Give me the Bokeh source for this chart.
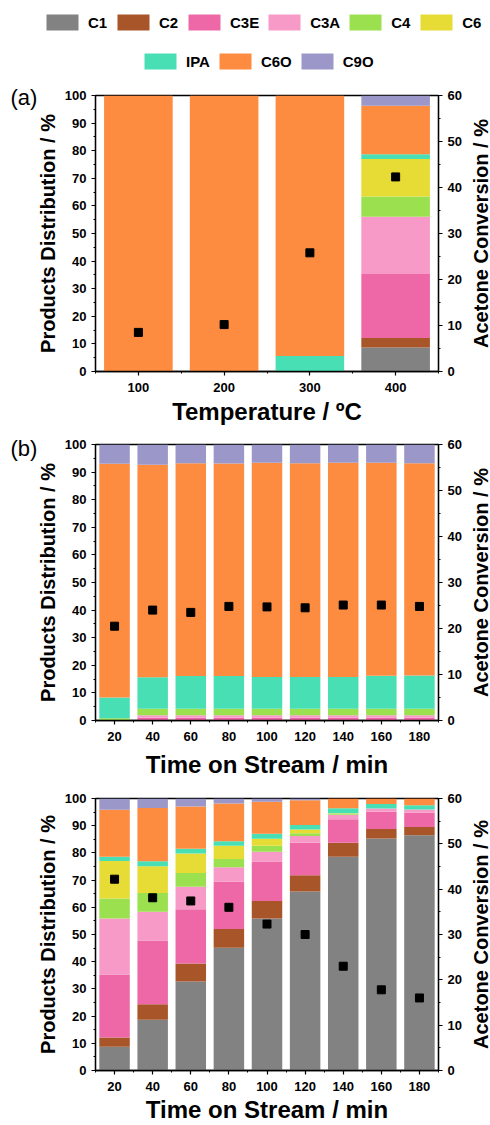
import math
from bokeh.plotting import figure
from bokeh.models import (ColumnDataSource, Range1d, LinearAxis, FixedTicker,
                          Legend, LegendItem, Label)
from bokeh.layouts import column
from bokeh.embed import file_html
from bokeh.resources import INLINE

FONT = "Liberation Sans"

species = ["C1", "C2", "C3E", "C3A", "C4", "C6", "IPA", "C6O", "C9O"]
colors = ["#828282", "#A8552A", "#EE68A8", "#F79AC8", "#9BE04F",
          "#E6DC35", "#48DFB5", "#FD8C40", "#9C97C9"]

# ---------- panel (a): temperature ----------
temps = [100, 200, 300, 400]
a_C1 = [0, 0, 0, 8.7]
a_C2 = [0, 0, 0, 3.4]
a_C3E = [0, 0, 0, 23.2]
a_C3A = [0, 0, 0, 20.8]
a_C4 = [0, 0, 0, 7.3]
a_C6 = [0, 0, 0, 13.6]
a_IPA = [0, 0, 5.6, 1.7]
a_C6O = [100, 100, 94.4, 17.6]
a_C9O = [0, 0, 0, 3.7]
a_conv = [8.5, 10.2, 25.8, 42.3]

# ---------- panel (b): time on stream ----------
time_b = [20, 40, 60, 80, 100, 120, 140, 160, 180]
b_C1 = [0, 0, 0, 0, 0, 0, 0, 0, 0]
b_C2 = [0, 0, 0, 0, 0, 0, 0, 0, 0]
b_C3E = [0, 1.0, 1.0, 1.0, 1.0, 1.0, 1.0, 1.0, 1.0]
b_C3A = [0, 0.9, 0.9, 0.9, 0.9, 0.9, 0.9, 0.9, 0.9]
b_C4 = [0.8, 2.4, 2.4, 2.4, 2.4, 2.4, 2.4, 2.4, 2.4]
b_C6 = [0, 0, 0, 0, 0, 0, 0, 0, 0]
b_IPA = [7.5, 11.4, 11.8, 11.8, 11.5, 11.5, 11.5, 11.9, 12.0]
b_C6O = [84.7, 77.0, 77.1, 77.0, 77.6, 77.4, 77.6, 77.2, 76.9]
b_C9O = [7.0, 7.3, 6.8, 6.9, 6.6, 6.8, 6.6, 6.6, 6.8]
b_conv = [20.5, 24.0, 23.5, 24.8, 24.7, 24.5, 25.1, 25.1, 24.8]

# ---------- panel (c): time on stream ----------
time_c = [20, 40, 60, 80, 100, 120, 140, 160, 180]
c_C1 = [8.7, 18.7, 32.7, 45.1, 55.9, 65.8, 78.6, 85.3, 86.5]
c_C2 = [3.4, 5.7, 6.6, 6.9, 6.4, 6.0, 5.1, 3.5, 3.0]
c_C3E = [23.2, 23.4, 20.0, 17.4, 14.5, 11.9, 8.7, 6.3, 5.3]
c_C3A = [20.6, 10.6, 8.3, 5.3, 3.6, 2.5, 1.6, 1.2, 1.2]
c_C4 = [7.3, 6.9, 5.0, 3.1, 2.2, 1.0, 0.4, 0, 0]
c_C6 = [13.8, 9.8, 7.2, 4.8, 2.6, 1.4, 0.2, 0, 0]
c_IPA = [1.6, 1.8, 1.7, 1.7, 1.8, 1.7, 1.8, 1.7, 1.5]
c_C6O = [17.3, 19.6, 15.6, 13.9, 11.8, 9.1, 3.6, 2.0, 2.5]
c_C9O = [4.1, 3.5, 2.9, 1.8, 1.2, 0.6, 0, 0, 0]
c_conv = [42.2, 38.1, 37.4, 36.0, 32.3, 30.0, 23.0, 17.8, 16.0]

x_ticks_a = [100, 200, 300, 400]
x_minor_a = [50, 150, 250, 350, 450]
x_ticks_t = [20, 40, 60, 80, 100, 120, 140, 160, 180]
x_minor_t = [10, 30, 50, 70, 90, 110, 130, 150, 170, 190]

LEFT, RIGHT, FW, FH = 95, 52, 343, 276


def style_axis(ax, label_size):
    ax.axis_line_width = 1.3
    ax.axis_line_color = "black"
    ax.major_tick_in = 0
    ax.major_tick_out = 4
    ax.minor_tick_in = 0
    ax.minor_tick_out = 2
    ax.major_tick_line_width = 1.2
    ax.minor_tick_line_width = 1.0
    ax.major_label_text_font = FONT
    ax.major_label_text_font_style = "bold"
    ax.major_label_text_font_size = "13px"
    ax.major_label_text_color = "black"
    ax.major_label_text_line_height = 1.0
    ax.axis_label_text_font = FONT
    ax.axis_label_text_font_style = "bold"
    ax.axis_label_text_font_size = label_size
    ax.axis_label_text_color = "black"
    ax.axis_label_text_line_height = 1.0


def make_source(xs, cols):
    data = {"x": xs}
    for s, v in zip(species, cols):
        data[s] = v
    return ColumnDataSource(data)


def make_panel(src, xs, conv, xr, width, ticks, minor, xlabel, tag, tag_dy,
               top, bottom, xlabel_standoff):
    p = figure(width=490, height=top + FH + bottom, x_range=Range1d(*xr),
               y_range=Range1d(0, 100), toolbar_location=None,
               output_backend="svg", min_border_top=top,
               min_border_bottom=bottom, min_border_left=LEFT,
               min_border_right=RIGHT)
    p.extra_y_ranges = {"conv": Range1d(0, 60)}
    p.grid.visible = False
    p.outline_line_color = "black"
    p.outline_line_width = 1.3
    p.outline_line_alpha = 1.0
    p.vbar_stack(species, x="x", width=width, source=src,
                 fill_color=colors, line_color=None)
    p.scatter(xs, conv, marker="square", size=8, color="black",
              y_range_name="conv")
    p.xaxis.ticker = FixedTicker(ticks=ticks, minor_ticks=minor)
    p.xaxis.axis_label = xlabel
    p.xaxis.major_label_standoff = 7
    p.xaxis.axis_label_standoff = xlabel_standoff
    p.yaxis.ticker = FixedTicker(ticks=list(range(0, 101, 10)),
                                 minor_ticks=list(range(0, 101, 5)))
    p.yaxis.axis_label = "Products Distribution / %"
    p.yaxis.major_label_standoff = 5
    p.yaxis.axis_label_standoff = 3
    ra = LinearAxis(y_range_name="conv",
                    ticker=FixedTicker(ticks=list(range(0, 61, 10)),
                                       minor_ticks=list(range(0, 61, 5))))
    ra.major_label_standoff = 5
    p.add_layout(ra, "right")
    for ax in p.xaxis:
        style_axis(ax, "24px")
    for ax in p.yaxis:
        style_axis(ax, "20px")
    style_axis(ra, "20px")
    sx = (xr[1] - xr[0]) / FW
    # right-hand axis title, reading bottom to top, in the right border
    p.add_layout(Label(x=xr[0] + (480 - LEFT) * sx, y=50,
                       text="Acetone Conversion / %", angle=math.pi / 2,
                       text_align="center", text_baseline="middle",
                       text_font=FONT, text_font_style="bold",
                       text_font_size="20px", text_color="black"),
                 "right")
    if tag:
        p.add_layout(Label(x=xr[0] + (10 - LEFT) * sx,
                           y=100 - tag_dy * 100 / FH,
                           text=tag, text_align="left",
                           text_baseline="middle", text_font=FONT,
                           text_font_size="22px", text_color="black"),
                     "left")
    return p


src_a = make_source(temps, [a_C1, a_C2, a_C3E, a_C3A, a_C4, a_C6, a_IPA,
                            a_C6O, a_C9O])
src_b = make_source(time_b, [b_C1, b_C2, b_C3E, b_C3A, b_C4, b_C6, b_IPA,
                             b_C6O, b_C9O])
src_c = make_source(time_c, [c_C1, c_C2, c_C3E, c_C3A, c_C4, c_C6, c_IPA,
                             c_C6O, c_C9O])

# ---------- legend strip ----------
lp = figure(width=490, height=85, x_range=Range1d(50, 450),
            y_range=Range1d(0, 100), x_axis_type=None, y_axis_type=None,
            toolbar_location=None, output_backend="svg", min_border=0)
try:
    lp.frame_align = False
except AttributeError:
    pass
lp.outline_line_color = None
lp.grid.visible = False
leg_rends = lp.vbar_stack(species, x="x", width=80, source=src_a,
                          fill_color=colors, line_color=None)
for r in leg_rends:
    r.visible = False


def make_legend(idx, loc):
    lg = Legend(items=[LegendItem(label=species[i], renderers=[leg_rends[i]])
                       for i in idx],
                location=loc, orientation="horizontal", padding=0,
                margin=0, spacing=5, label_standoff=6, glyph_width=40,
                glyph_height=20, label_height=20, label_width=20,
                border_line_color=None, background_fill_alpha=0,
                click_policy="none", inactive_fill_alpha=0)
    lg.label_text_font = FONT
    lg.label_text_font_style = "bold"
    lg.label_text_font_size = "15px"
    lg.label_text_color = "black"
    return lg


lp.add_layout(make_legend([0, 1, 2, 3, 4, 5], (42, 53)))
lp.add_layout(make_legend([6, 7, 8], (140, 14)))

pa = make_panel(src_a, temps, a_conv, (50, 450), 80, x_ticks_a, x_minor_a,
                "Temperature / ºC", "(a)", 2, 10, 65, 3)
pb = make_panel(src_b, time_b, b_conv, (10, 190), 16, x_ticks_t, x_minor_t,
                "Time on Stream / min", "(b)", 4, 8, 70, 7)
pc = make_panel(src_c, time_c, c_conv, (10, 190), 16, x_ticks_t, x_minor_t,
                "Time on Stream / min", None, 0, 8, 51, 2)

layout = column(lp, pa, pb, pc, spacing=0)
open("out.html", "w").write(file_html(layout, INLINE))
